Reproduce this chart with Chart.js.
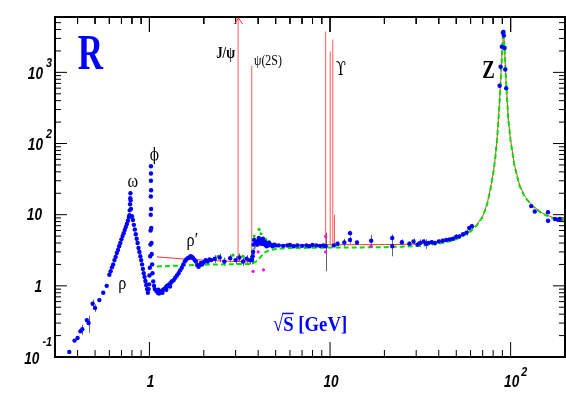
<!DOCTYPE html>
<html>
<head>
<meta charset="utf-8">
<script src="https://cdn.jsdelivr.net/npm/chart.js@4.4.1/dist/chart.umd.min.js"></script>
<style>
  html, body { margin: 0; padding: 0; background: #fff; }
</style>
</head>
<body>
<canvas id="rChart" width="566" height="404"></canvas>
<script>
// R = sigma(e+e- -> hadrons) / sigma(e+e- -> mu+mu-) versus sqrt(s)
// Measurements as [sqrt(s) GeV, R, error] (error 0 = no bar drawn)
const rhoOmega = [
  [0.36, 0.118, 0], [0.385, 0.17, 0], [0.40, 0.185, 0], [0.415, 0.23, 0], [0.425, 0.245, 0.04],
  [0.45, 0.33, 0], [0.46, 0.30, 0.08], [0.485, 0.56, 0.08], [0.50, 0.49, 0.06], [0.528, 0.63, 0],
  [0.555, 0.80, 0], [0.58, 1.0, 0], [0.60, 1.43, 0], [0.61, 1.6, 0], [0.62, 1.82, 0], [0.63, 2.0, 0],
  [0.64, 2.3, 0], [0.65, 2.55, 0], [0.66, 2.9, 0], [0.67, 3.2, 0], [0.68, 3.6, 0], [0.69, 4.0, 0],
  [0.70, 4.5, 0], [0.71, 5.0, 0], [0.72, 5.5, 0], [0.73, 6.1, 0], [0.74, 6.7, 0], [0.75, 7.4, 0],
  [0.76, 8.2, 0], [0.77, 9.2, 0], [0.775, 9.8, 0], [0.778, 11.5, 0], [0.781, 14, 0], [0.783, 17, 0],
  [0.785, 20, 0], [0.787, 16, 0], [0.79, 12, 0], [0.80, 9.5, 0], [0.81, 8.4, 0], [0.82, 7.2, 0],
  [0.83, 6.2, 0], [0.84, 5.3, 0], [0.85, 4.6, 0], [0.86, 4.0, 0], [0.87, 3.4, 0], [0.88, 3.0, 0],
  [0.89, 2.6, 0], [0.90, 2.3, 0], [0.91, 2.0, 0], [0.92, 1.73, 0], [0.93, 1.5, 0], [0.94, 1.33, 0],
  [0.95, 1.17, 0], [0.96, 1.03, 0], [0.97, 0.9, 0], [0.98, 0.8, 0]
];
const phiPeak = [
  [0.99, 0.9, 0], [0.995, 1.05, 0], [1.0, 1.4, 0], [1.005, 1.8, 0], [1.01, 2.6, 0], [1.013, 3.8, 0],
  [1.015, 6, 0], [1.017, 10, 0], [1.018, 18, 0], [1.019, 30, 0], [1.0195, 48, 0], [1.020, 38, 0],
  [1.021, 22, 0], [1.022, 12, 0], [1.024, 6.5, 0], [1.027, 4, 0], [1.03, 2.8, 0], [1.035, 2.0, 0],
  [1.04, 1.5, 0], [1.05, 1.15, 0], [1.06, 1.0, 0]
];
const rhoPrime = [
  [1.07, 0.9, 0], [1.09, 0.85, 0], [1.11, 0.8, 0], [1.12, 0.88, 0], [1.13, 0.78, 0], [1.15, 0.82, 0],
  [1.17, 0.85, 0], [1.18, 0.8, 0], [1.19, 0.88, 0], [1.21, 0.9, 0], [1.23, 0.95, 0], [1.24, 0.88, 0],
  [1.25, 1.0, 0], [1.27, 1.02, 0], [1.29, 1.05, 0], [1.30, 0.98, 0], [1.31, 1.1, 0], [1.33, 1.15, 0],
  [1.36, 1.2, 0], [1.39, 1.3, 0], [1.42, 1.4, 0], [1.45, 1.5, 0], [1.48, 1.65, 0], [1.51, 1.8, 0],
  [1.54, 2.0, 0], [1.57, 2.2, 0], [1.60, 2.35, 0], [1.63, 2.45, 0], [1.66, 2.5, 0], [1.69, 2.6, 0],
  [1.72, 2.55, 0], [1.75, 2.45, 0], [1.78, 2.3, 0], [1.81, 2.2, 0], [1.84, 1.95, 0], [1.87, 1.85, 0],
  [1.90, 1.95, 0], [1.93, 2.1, 0], [1.96, 2.0, 0], [2.0, 2.15, 0], [2.05, 2.3, 0], [2.1, 2.2, 0],
  [2.15, 2.35, 0], [2.2, 2.3, 0]
];
const charmRegion = [
  [2.3, 2.4, 0.3], [2.45, 2.5, 0.35], [2.6, 2.2, 0.3], [2.8, 2.45, 0.3], [3.0, 2.3, 0.3],
  [3.15, 2.5, 0.35], [3.3, 2.2, 0.3], [3.45, 2.4, 0.3], [3.6, 2.3, 0.3], [3.7, 2.3, 0.3],
  [3.73, 2.6, 0.4], [3.75, 3.0, 0.4], [3.77, 3.8, 0.5], [3.8, 4.4, 0.5], [3.85, 4.2, 0],
  [3.9, 4.0, 0], [3.95, 3.8, 0], [4.0, 4.3, 0], [4.03, 4.7, 0], [4.06, 4.4, 0], [4.1, 4.0, 0],
  [4.15, 4.4, 0], [4.2, 3.9, 0], [4.25, 4.6, 0], [4.3, 4.2, 0], [4.35, 3.8, 0], [4.4, 4.1, 0],
  [4.45, 3.6, 0], [4.5, 3.9, 0], [4.55, 3.7, 0], [4.6, 4.0, 0], [4.7, 3.8, 0], [4.8, 3.6, 0],
  [4.9, 3.8, 0], [5.0, 3.7, 0]
];
const continuum = [
  [5.2, 3.7, 0], [5.5, 3.65, 0], [5.8, 3.7, 0], [6.0, 3.75, 0], [6.3, 3.6, 0], [6.6, 3.7, 0],
  [7.0, 3.65, 0], [7.4, 3.7, 0], [7.7, 3.6, 0], [8.0, 3.75, 0], [8.4, 3.7, 0], [8.8, 3.65, 0],
  [9.2, 3.7, 0], [9.46, 3.6, 2.0], [10.5, 3.7, 0], [11.0, 3.9, 0.3], [12.0, 4.07, 0.5],
  [12.9, 5.5, 0.5], [12.9, 4.4, 0.5], [14.1, 4.07, 0.3], [16.9, 4.3, 0.9], [22.1, 4.7, 0.6],
  [22.1, 3.6, 1.0], [25.0, 4.1, 0.4], [27.5, 3.9, 0.3], [29.0, 4.2, 0.4], [30.5, 3.8, 0.3],
  [31.5, 4.0, 0.5], [33.0, 4.2, 0.3], [34.0, 3.9, 0.6], [35.0, 4.0, 0.2], [36.5, 4.1, 0.3],
  [38.0, 4.0, 0.3], [40.0, 4.2, 0.3], [42.0, 4.3, 0.3], [44.0, 4.4, 0.3], [46.0, 4.5, 0.3],
  [48.0, 4.6, 0.3], [50.0, 4.9, 0.4], [52.0, 4.95, 0.4], [54.5, 5.3, 0.4], [57.0, 5.6, 0.5],
  [59.0, 6.5, 0.5], [61.0, 6.9, 0.5]
];
const zPole = [
  [86.9, 650, 0], [88.0, 1200, 0], [89.4, 2300, 0], [90.6, 3600, 0], [91.2, 3700, 0],
  [91.7, 3300, 0], [92.6, 2200, 0], [93.4, 1100, 0], [94.5, 600, 0],
  [130, 13.2, 0.6], [136, 11.1, 0.6], [161, 10.8, 0.5], [161, 8.2, 0.5], [176, 8.7, 0.4],
  [183, 8.5, 0.4], [187, 8.7, 0.4]
];
// smaller data sets from other experiments
const greenPts = [[2.4, 2.6], [2.9, 2.7], [3.3, 2.6], [3.8, 5.0], [4.05, 6.2], [4.15, 5.4], [4.4, 4.5], [4.6, 4.2]];
const magentaPts = [[3.75, 1.6], [4.0, 3.0], [4.28, 1.68], [9.46, 3.0], [9.46, 4.95], [16.9, 3.6]];
const cyanPts = [[3.77, 4.4], [3.78, 3.2]];

// perturbative QCD (solid red) and naive quark-parton model (dashed green)
const qcdE = [1.1, 1.5, 2.0, 2.5, 3.0, 3.6, 3.75, 3.8, 3.85, 3.9, 4.2, 5, 7, 10, 15, 20, 25, 30, 35, 40, 45, 50, 55,
  60, 65, 70, 74, 77, 80, 82, 84, 86, 87.5, 89, 90, 90.7, 91.2, 91.7, 92.5, 93.5, 95, 97, 100, 105, 112, 120, 133, 150, 170, 200];
const qcdR = [2.55, 2.4, 2.3, 2.24, 2.2, 2.17, 2.2, 3.0, 3.5, 3.6, 3.7, 3.75, 3.78, 3.78, 3.79, 3.8, 3.82, 3.87, 3.95, 4.1, 4.35, 4.7, 5.3,
  6.0, 7.3, 9.5, 14, 22, 38, 60, 110, 260, 550, 1300, 2400, 3300, 3700, 3300, 2300, 1200, 550, 230, 110, 50, 26, 18, 13.2, 10.5, 9.2, 8.4];
const partonE = [1.1, 1.5, 2.0, 3.0, 3.6, 3.7, 3.9, 4.1, 4.3, 4.6, 5.0, 6, 8, 10, 15, 20, 25, 30, 35, 40, 45, 50, 55,
  60, 65, 70, 74, 77, 80, 82, 84, 86, 87.5, 89, 90, 90.7, 91.2, 91.7, 92.5, 93.5, 95, 97, 100, 105, 112, 120, 133, 150, 170, 200];
const partonR = [1.87, 1.93, 1.98, 2.02, 2.03, 2.05, 2.2, 2.5, 2.9, 3.15, 3.3, 3.4, 3.42, 3.45, 3.47, 3.5, 3.55, 3.62, 3.75, 3.9, 4.15, 4.5, 5.1,
  5.8, 7.1, 9.3, 13.8, 21.5, 37, 59, 108, 255, 540, 1280, 2350, 3250, 3650, 3250, 2250, 1180, 540, 225, 108, 49, 25.5, 17.6, 13, 10.3, 9.0, 8.2];

// narrow resonances drawn as spikes: mass, continuum level, peak height
const resMass = [3.097, 3.686, 9.46, 10.02, 10.36, 10.58];
const resBase = [2.2, 2.2, 3.78, 3.78, 3.78, 3.78];
const resPeak = [6000, 1230, 3750, 1960, 2900, 10];

// axis ranges, tick positions and tick labels
const xRange = [0.3, 200];
const yRange = [0.1, 6000];
const xMajor = [1, 10, 100];
const xMinor = [0.4, 0.5, 0.6, 0.7, 0.8, 0.9, 2, 3, 4, 5, 6, 7, 8, 9, 20, 30, 40, 50, 60, 70, 80, 90];
const yMajor = [1, 10, 100, 1000];
const yMinor = [0.2, 0.3, 0.4, 0.5, 0.6, 0.7, 0.8, 0.9, 2, 3, 4, 5, 6, 7, 8, 9, 20, 30, 40, 50, 60, 70, 80, 90,
  200, 300, 400, 500, 600, 700, 800, 900, 2000, 3000, 4000, 5000];
const xTickVals = [1, 10, 100];
const xTickText = ['1', '10', '10^2'];
const yTickVals = [0.1, 1, 10, 100, 1000];
const yTickText = ['10^-1', '1', '10', '10^2', '10^3'];

// labels placed at (sqrt(s), R)
const annotations = [
  { text: 'R', e: 0.471, r: 1680, font: 'bold 50px "Liberation Serif"', sx: 0.7, color: '#0000ff' },
  { text: 'J/ψ', e: 2.64, r: 1794, font: 'bold 16px "Liberation Serif"', sx: 0.8, color: '#000' },
  { text: 'ψ(2S)', e: 4.53, r: 1429, font: '14px "Liberation Serif"', sx: 0.85, color: '#000' },
  { text: 'ϒ', e: 11.5, r: 1067, font: '18px "DejaVu Serif"', sx: 0.8, color: '#000' },
  { text: 'Z', e: 75.5, r: 1050, font: 'bold 26px "Liberation Serif"', sx: 0.72, color: '#000' },
  { text: 'ω', e: 0.81, r: 29, font: '18px "Liberation Serif"', sx: 0.9, color: '#000' },
  { text: 'ϕ', e: 1.066, r: 67.8, font: '17px "DejaVu Serif"', sx: 0.8, color: '#000' },
  { text: 'ρ', e: 0.708, r: 1.067, font: '18px "Liberation Serif"', sx: 0.9, color: '#000' },
  { text: 'ρ′', e: 1.73, r: 4.3, font: '18px "Liberation Serif"', sx: 0.9, color: '#000' }
];

function toPoints(rows) {
  return rows.map(p => ({ x: p[0], y: p[1] }));
}
function zipPoints(xs, ys) {
  return xs.map((v, i) => ({ x: v, y: ys[i] }));
}

const measurements = [].concat(rhoOmega, phiPeak, rhoPrime, charmRegion, continuum, zPole);

function drawScaled(ctx, text, x, y, font, sx, align) {
  ctx.save();
  ctx.font = font;
  ctx.textAlign = align || 'center';
  ctx.textBaseline = 'middle';
  ctx.translate(x, y);
  ctx.scale(sx, 1);
  ctx.fillText(text, 0, 0);
  ctx.restore();
}

// width of text once condensed
function textW(ctx, text, font, sx) {
  ctx.save();
  ctx.font = font;
  const w = ctx.measureText(text).width * sx;
  ctx.restore();
  return w;
}

const errorBars = {
  id: 'errorBars',
  beforeDatasetsDraw(chart) {
    const { ctx, chartArea: a, scales: { x, y } } = chart;
    ctx.save();
    ctx.beginPath();
    ctx.rect(a.left, a.top, a.width, a.height);
    ctx.clip();
    ctx.strokeStyle = '#666';
    ctx.lineWidth = 1;
    chart.data.datasets.forEach(ds => {
      if (!ds.errors) return;
      ds.data.forEach((p, i) => {
        const err = ds.errors[i];
        if (!err) return;
        const px = Math.round(x.getPixelForValue(p.x)) + 0.5;
        ctx.beginPath();
        ctx.moveTo(px, y.getPixelForValue(p.y + err));
        ctx.lineTo(px, y.getPixelForValue(Math.max(p.y - err, 0.01)));
        ctx.stroke();
      });
    });
    ctx.restore();
  }
};

const textLayer = {
  id: 'textLayer',
  afterDraw(chart) {
    const { ctx, chartArea: a, scales: { x, y } } = chart;
    ctx.save();
    ctx.setLineDash([]);

    // arrow on the J/psi spike, it runs off scale
    const jx = Math.round(x.getPixelForValue(resMass[0])) + 0.5;
    ctx.strokeStyle = '#ff3030';
    ctx.lineWidth = 1;
    ctx.beginPath();
    ctx.moveTo(jx - 4, a.top + 7);
    ctx.lineTo(jx, a.top + 1);
    ctx.lineTo(jx + 4, a.top + 7);
    ctx.stroke();

    // tick labels
    const baseFont = 'italic bold 17px "Liberation Sans"';
    const expFont = 'italic bold 12px "Liberation Sans"';
    ctx.fillStyle = '#000';
    yTickVals.forEach((v, i) => {
      const parts = yTickText[i].split('^');
      const py = y.getPixelForValue(v);
      if (parts.length === 2) {
        const ew = textW(ctx, parts[1], expFont, 0.9);
        const lift = v === yRange[0] ? 14 : 9;
        drawScaled(ctx, parts[1], 52, py - lift, expFont, 0.9, 'right');
        drawScaled(ctx, parts[0], 52 - ew - 3, py + 2, baseFont, 0.8, 'right');
      } else {
        drawScaled(ctx, parts[0], 42, py + 1, baseFont, 0.8, 'right');
      }
    });
    xTickVals.forEach((v, i) => {
      const parts = xTickText[i].split('^');
      const px = x.getPixelForValue(v);
      drawScaled(ctx, parts[0], px + 1, 382, baseFont, 0.8, 'center');
      if (parts.length === 2) {
        const bw = textW(ctx, parts[0], baseFont, 0.8);
        drawScaled(ctx, parts[1], px + 1 + bw / 2 + 2, 373, expFont, 0.9, 'left');
      }
    });

    // resonance and axis labels
    annotations.forEach(l => {
      ctx.fillStyle = l.color;
      drawScaled(ctx, l.text, x.getPixelForValue(l.e), y.getPixelForValue(l.r), l.font, l.sx, 'center');
    });

    // sqrt(s) [GeV]
    const tf = 'bold 22px "Liberation Serif", "DejaVu Serif"';
    const tsx = 0.85;
    const tx = 273;
    const ty = y.getPixelForValue(0.282);
    ctx.fillStyle = '#0000ff';
    drawScaled(ctx, '√S [GeV]', tx, ty, tf, tsx, 'left');
    const rootW = textW(ctx, '√', tf, tsx);
    const sW = textW(ctx, 'S', tf, tsx);
    ctx.strokeStyle = '#0000ff';
    ctx.lineWidth = 1.5;
    ctx.beginPath();
    ctx.moveTo(tx + rootW - 1, ty - 11.5);
    ctx.lineTo(tx + rootW + sW, ty - 11.5);
    ctx.stroke();

    // frame
    ctx.strokeStyle = '#000';
    ctx.lineWidth = 2;
    ctx.strokeRect(a.left, a.top, a.right - a.left, a.bottom - a.top);
    ctx.restore();
  }
};

const datasets = [
  {
    label: 'data',
    data: toPoints(measurements),
    errors: measurements.map(p => p[2]),
    backgroundColor: '#0000ff',
    borderWidth: 0,
    pointRadius: 2.2,
    order: 1
  },
  { label: 'green', data: toPoints(greenPts), backgroundColor: '#00d000', borderWidth: 0, pointRadius: 1.6, order: 2 },
  { label: 'magenta', data: toPoints(magentaPts), backgroundColor: '#ff00ff', borderWidth: 0, pointRadius: 1.6, order: 2 },
  { label: 'cyan', data: toPoints(cyanPts), backgroundColor: '#00e0e0', borderWidth: 0, pointRadius: 1.6, order: 2 },
  {
    label: 'parton',
    data: zipPoints(partonE, partonR),
    showLine: true,
    borderColor: '#00e000',
    borderWidth: 2,
    borderDash: [5, 3],
    pointRadius: 0,
    order: 3
  },
  {
    label: 'qcd',
    data: zipPoints(qcdE, qcdR),
    showLine: true,
    borderColor: '#ff3030',
    borderWidth: 1,
    pointRadius: 0,
    order: 4
  }
];
resMass.forEach((m, i) => {
  datasets.push({
    label: 'res' + i,
    data: [{ x: m, y: resBase[i] }, { x: m, y: resPeak[i] }],
    showLine: true,
    borderColor: 'rgba(255,60,60,0.85)',
    borderWidth: 1,
    pointRadius: 0,
    order: 5
  });
});

const chart = new Chart(document.getElementById('rChart').getContext('2d'), {
  type: 'scatter',
  data: { datasets: datasets },
  options: {
    responsive: false,
    animation: false,
    devicePixelRatio: 1,
    layout: { autoPadding: false, padding: { left: 55, right: 1, top: 17, bottom: 47 } },
    elements: { line: { tension: 0 } },
    plugins: { legend: { display: false }, tooltip: { enabled: false } },
    scales: {
      x: { type: 'logarithmic', min: xRange[0], max: xRange[1], display: false },
      y: { type: 'logarithmic', min: yRange[0], max: yRange[1], display: false }
    }
  },
  plugins: [errorBars, textLayer]
});

// inward axis ticks as short line datasets; their far ends come from the
// laid-out scales so every tick has a fixed pixel length
function addTick(p0, p1) {
  chart.data.datasets.push({
    label: 'tick',
    data: [p0, p1],
    showLine: true,
    borderColor: '#000',
    borderWidth: 1,
    pointRadius: 0,
    order: 0
  });
}
const sx = chart.scales.x, sy = chart.scales.y, area = chart.chartArea;
xMajor.map(v => [v, 15]).concat(xMinor.map(v => [v, 7])).forEach(([v, len]) => {
  addTick({ x: v, y: yRange[0] }, { x: v, y: sy.getValueForPixel(area.bottom - len) });
  addTick({ x: v, y: yRange[1] }, { x: v, y: sy.getValueForPixel(area.top + len) });
});
yMajor.map(v => [v, 12]).concat(yMinor.map(v => [v, 6])).forEach(([v, len]) => {
  addTick({ x: xRange[0], y: v }, { x: sx.getValueForPixel(area.left + len), y: v });
  addTick({ x: xRange[1], y: v }, { x: sx.getValueForPixel(area.right - len), y: v });
});
chart.update('none');
</script>
</body>
</html>
